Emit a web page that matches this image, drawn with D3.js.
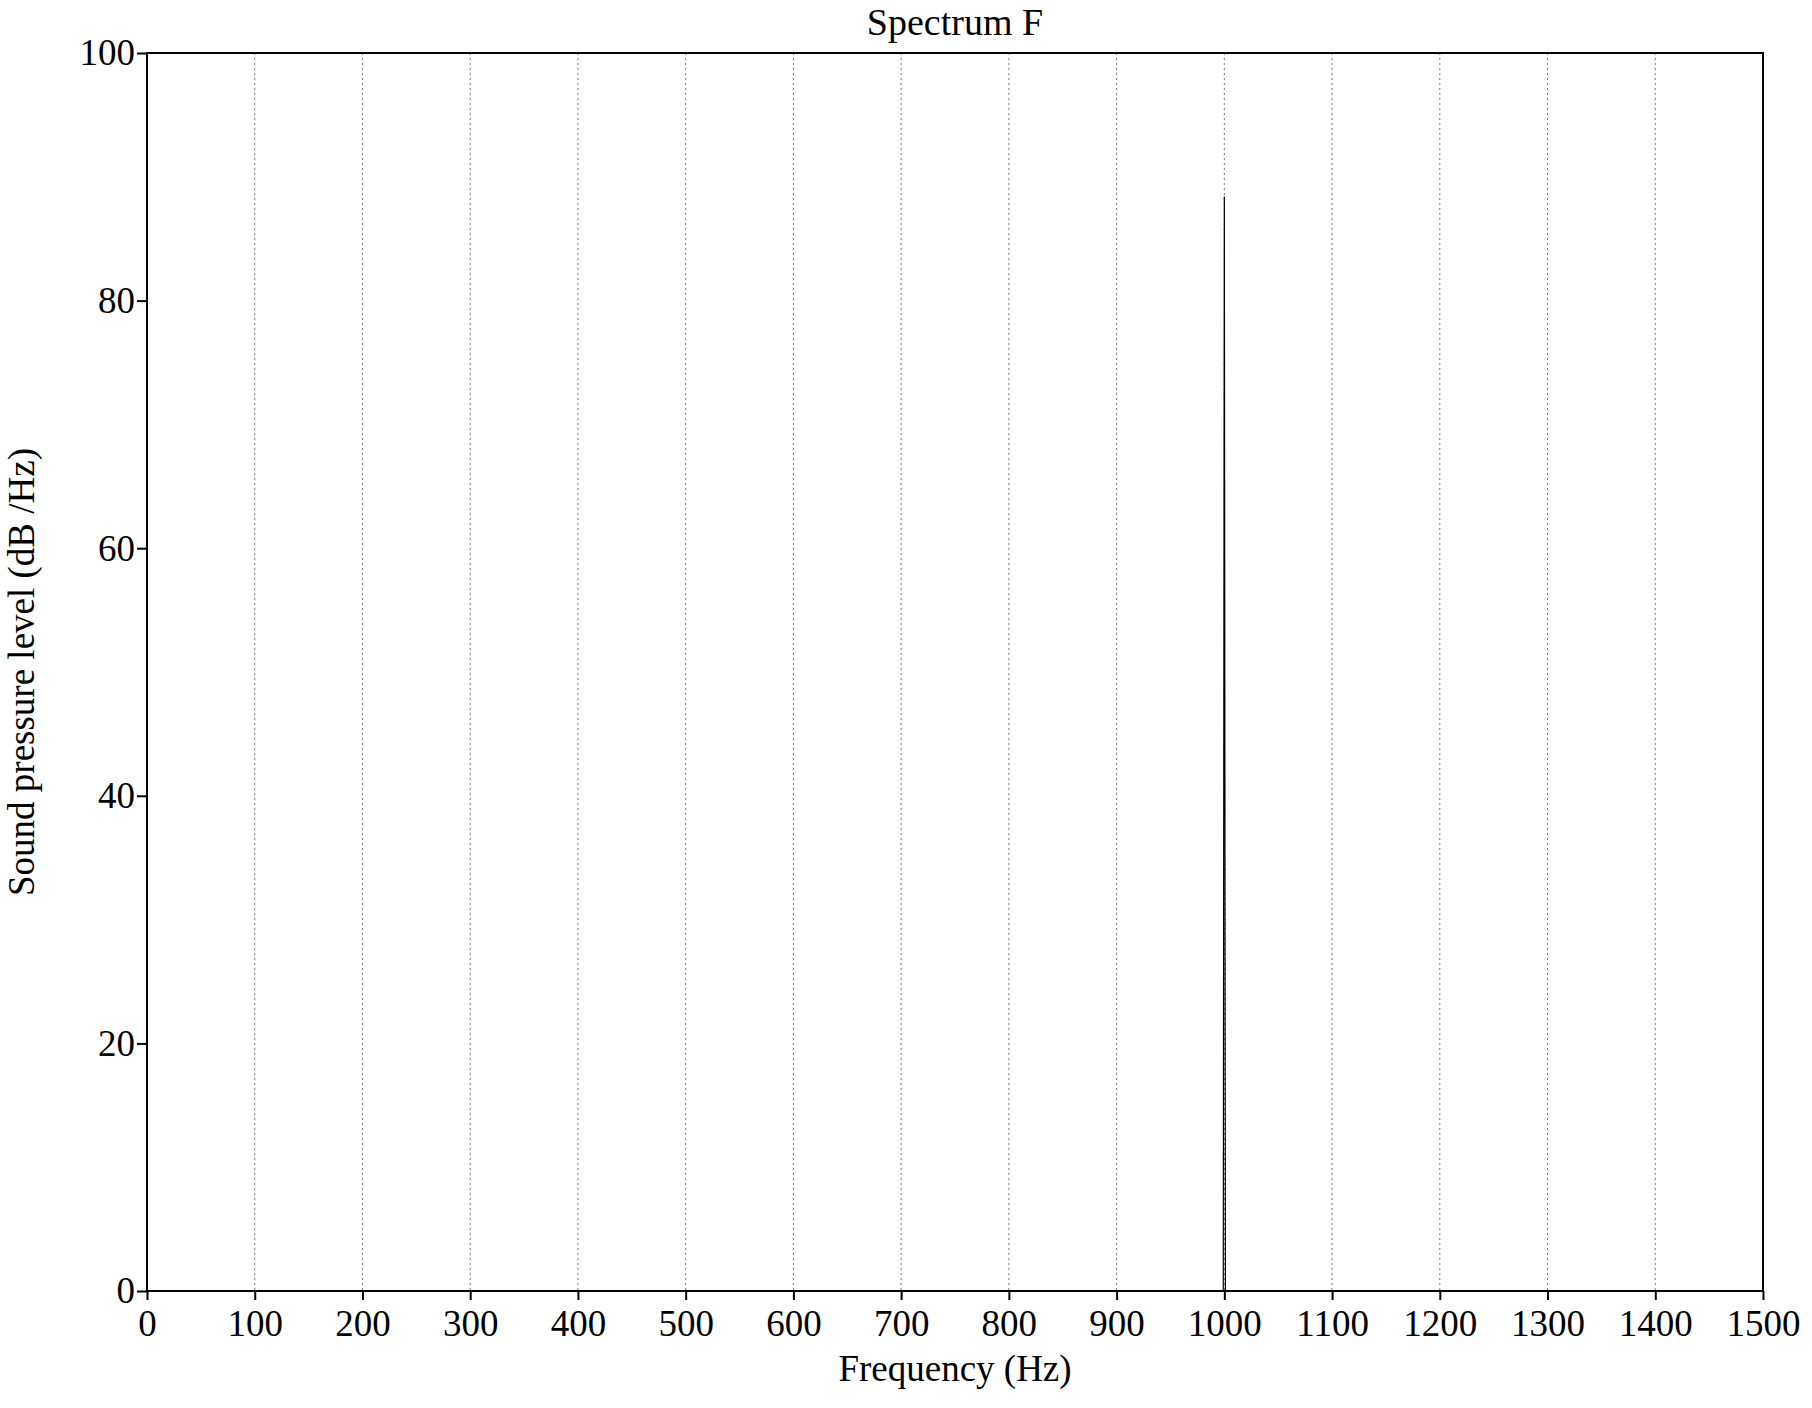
<!DOCTYPE html>
<html>
<head>
<meta charset="utf-8">
<script src="https://cdn.jsdelivr.net/npm/d3@7"></script>
<style>
  body { margin: 0; background: #fff; }
  text { font-family: "Liberation Serif", "Times New Roman", serif; fill: #000; }
</style>
</head>
<body>
<svg id="chart" width="1812" height="1408"></svg>
<script>
// spectrum samples (Hz, dB/Hz) - flat floor with a single tone near 1 kHz
const freqs = [0, 999, 1000, 1001, 1500]
const levels = [0, 0, 88.4, 0, 0]
const xTicks = [0, 100, 200, 300, 400, 500, 600, 700, 800, 900, 1000, 1100, 1200, 1300, 1400, 1500]
const yTicks = [0, 20, 40, 60, 80, 100]

const margin = { top: 53, right: 49, bottom: 117, left: 147 }
const W = 1812
const H = 1408
const svg = d3.select('#chart')

const x = d3.scaleLinear().domain([0, 1500]).range([margin.left, W - margin.right])
const y = d3.scaleLinear().domain([0, 100]).range([H - margin.bottom, margin.top])

// vertical dotted grid
svg.append('g')
  .selectAll('line')
  .data(xTicks.slice(1, -1))
  .join('line')
  .attr('x1', d => x(d)).attr('x2', d => x(d))
  .attr('y1', y(100)).attr('y2', y(0))
  .attr('stroke', '#777')
  .attr('stroke-width', 1)
  .attr('stroke-dasharray', '2,3')

// spectrum line
const pts = freqs.map((f, i) => [f, levels[i]])
svg.append('path')
  .datum(pts)
  .attr('fill', 'none')
  .attr('stroke', '#000')
  .attr('stroke-width', 1.2)
  .attr('d', d3.line().x(d => x(d[0])).y(d => y(d[1])))

// frame
svg.append('rect')
  .attr('x', x(0)).attr('y', y(100))
  .attr('width', x(1500) - x(0)).attr('height', y(0) - y(100))
  .attr('fill', 'none')
  .attr('stroke', '#000')
  .attr('stroke-width', 2)

const fontSize = 37

const xAxis = svg.append('g')
  .attr('transform', 'translate(0,' + y(0) + ')')
  .call(d3.axisBottom(x).tickValues(xTicks).tickSize(9).tickPadding(10).tickFormat(d3.format('d')))
xAxis.select('.domain').remove()
xAxis.selectAll('line').attr('stroke', '#000').attr('stroke-width', 2)
xAxis.selectAll('text').style('font-size', fontSize + 'px').attr('fill', '#000')

const yAxis = svg.append('g')
  .attr('transform', 'translate(' + x(0) + ',0)')
  .call(d3.axisLeft(y).tickValues(yTicks).tickSize(10).tickPadding(2).tickFormat(d3.format('d')))
yAxis.select('.domain').remove()
yAxis.selectAll('line').attr('stroke', '#000').attr('stroke-width', 2)
yAxis.selectAll('text').style('font-size', fontSize + 'px').attr('fill', '#000')

svg.append('text')
  .attr('x', (x(0) + x(1500)) / 2)
  .attr('y', 35)
  .attr('text-anchor', 'middle')
  .style('font-size', '38px')
  .text('Spectrum F')

svg.append('text')
  .attr('x', (x(0) + x(1500)) / 2)
  .attr('y', 1381)
  .attr('text-anchor', 'middle')
  .style('font-size', fontSize + 'px')
  .text('Frequency (Hz)')

svg.append('text')
  .attr('transform', 'translate(34,' + (y(0) + y(100)) / 2 + ') rotate(-90)')
  .attr('text-anchor', 'middle')
  .style('font-size', fontSize + 'px')
  .text('Sound pressure level (dB /Hz)')
</script>
</body>
</html>
